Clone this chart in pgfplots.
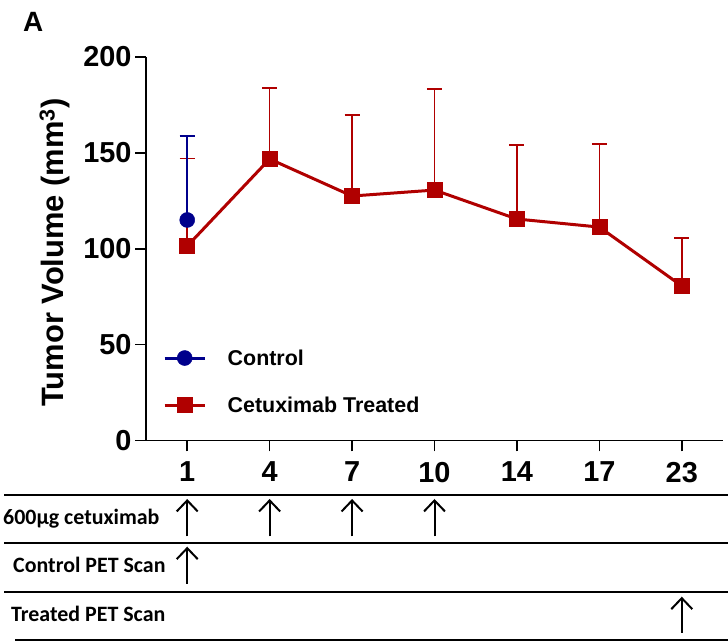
\documentclass[border=0pt]{standalone}
\usepackage{fontspec}
\setmainfont{Liberation Sans}
\newfontfamily\calibri{Carlito}
\usepackage{pgfplots}
\usepackage{pgfplotstable}
\pgfplotsset{compat=1.18}
\usetikzlibrary{arrows.meta}
\definecolor{ctrlblue}{RGB}{0,0,140}
\definecolor{txred}{RGB}{176,0,0}

% day index, mean tumour volume, upper SD
\pgfplotstableread{
x y e
0 101.4 45.6
1 146.8 37.0
2 127.5 42.3
3 130.6 52.7
4 115.5 38.6
5 111.3 43.3
6 80.6 25.0
}\treated
\pgfplotstableread{
x y e
0 115.0 43.8
}\control

\begin{document}
\begin{tikzpicture}[arr/.style={line width=2bp, -{Straight Barb[length=11bp, width=21bp]}}]
\path[use as bounding box] (0,0) rectangle (728bp,641bp);
\node[anchor=base west, font=\bfseries\fontsize{28}{30}\selectfont, inner sep=0pt] at (23bp,609bp) {A};
\begin{axis}[
  at={(146bp,200.5bp)}, anchor=south west,
  scale only axis, width=577bp, height=383.5bp,
  xmin=-0.5, xmax=6.5, ymin=0, ymax=200,
  axis x line*=bottom, axis y line*=left,
  axis line style={line width=1.6bp, -},
  xtick={0,...,6}, xticklabels={1,4,7,10,14,17,23},
  ytick={0,50,...,200},
  tick align=outside, major tick length=11bp,
  tick style={line width=1.6bp, black},
  ticklabel style={font=\bfseries\fontsize{29}{32}\selectfont},
  xticklabel style={yshift=-7bp},
  /pgf/number format/assume math mode=true,
  ylabel={Tumor Volume (mm\textsuperscript{3})},
  ylabel style={font=\bfseries\fontsize{31}{34}\selectfont, at={(axis description cs:-0.158,0.49)}, anchor=center},
  clip=false,
  reverse legend,
  legend cell align=left,
  legend image code/.code={\path[draw=none, fill=none] (0bp,0bp) -- (63bp,0bp);
    \draw[#1, mark repeat=2, mark phase=2] plot coordinates {(0bp,0bp) (20bp,0bp) (40bp,0bp)};},
  legend style={at={(axis description cs:0.0295,0.1538)}, anchor=west, draw=none, fill=none,
    font=\bfseries\fontsize{21.5}{24}\selectfont, row sep=30bp, inner sep=0pt,
    nodes={inner sep=0pt}},
]
\addplot[txred, line width=3bp, mark=square*, mark size=7.5bp, mark options={solid, line width=0.5bp},
  error bars/.cd, y dir=plus, y explicit,
  error bar style={line width=1.5bp, txred},
  error mark options={rotate=90, mark size=7.5bp, line width=1.5bp, txred}]
  table[x=x, y=y, y error=e] {\treated};
\addlegendentry{Cetuximab Treated}
\addplot[ctrlblue, line width=3bp, mark=*, mark size=7.5bp, mark options={solid, line width=0.5bp},
  error bars/.cd, y dir=plus, y explicit,
  error bar style={line width=1.5bp, ctrlblue},
  error mark options={rotate=90, mark size=7.5bp, line width=1.5bp, ctrlblue}]
  table[x=x, y=y, y error=e] {\control};
\addlegendentry{Control}

% schedule columns: days 1, 4, 7, 10 and 23
\coordinate (d0) at (axis cs:0,0);
\coordinate (d1) at (axis cs:1,0);
\coordinate (d2) at (axis cs:2,0);
\coordinate (d3) at (axis cs:3,0);
\coordinate (d6) at (axis cs:6,0);
\end{axis}

% treatment and scan schedule
\foreach \d in {d0,d1,d2,d3}
  \draw[arr] ([yshift=-96bp]\d) -- ([yshift=-58.5bp]\d);
\draw[arr] ([yshift=-143.5bp]d0) -- ([yshift=-106.2bp]d0);
\draw[arr] ([yshift=-192.5bp]d6) -- ([yshift=-156.2bp]d6);

\draw[line width=2bp] (4bp,146bp) -- (728bp,146bp);
\draw[line width=2bp] (4bp,98.3bp) -- (728bp,98.3bp);
\draw[line width=2bp] (4bp,49.3bp) -- (728bp,49.3bp);
\draw[line width=2bp] (15bp,1bp) -- (728bp,1bp);

\begin{scope}[every node/.style={anchor=base west, inner sep=0pt, font=\calibri\bfseries\fontsize{22}{24}\selectfont}]
\node at (3bp,116bp) {600µg cetuximab};
\node at (13bp,68bp) {Control PET Scan};
\node at (11bp,19.3bp) {Treated PET Scan};
\end{scope}
\end{tikzpicture}
\end{document}
